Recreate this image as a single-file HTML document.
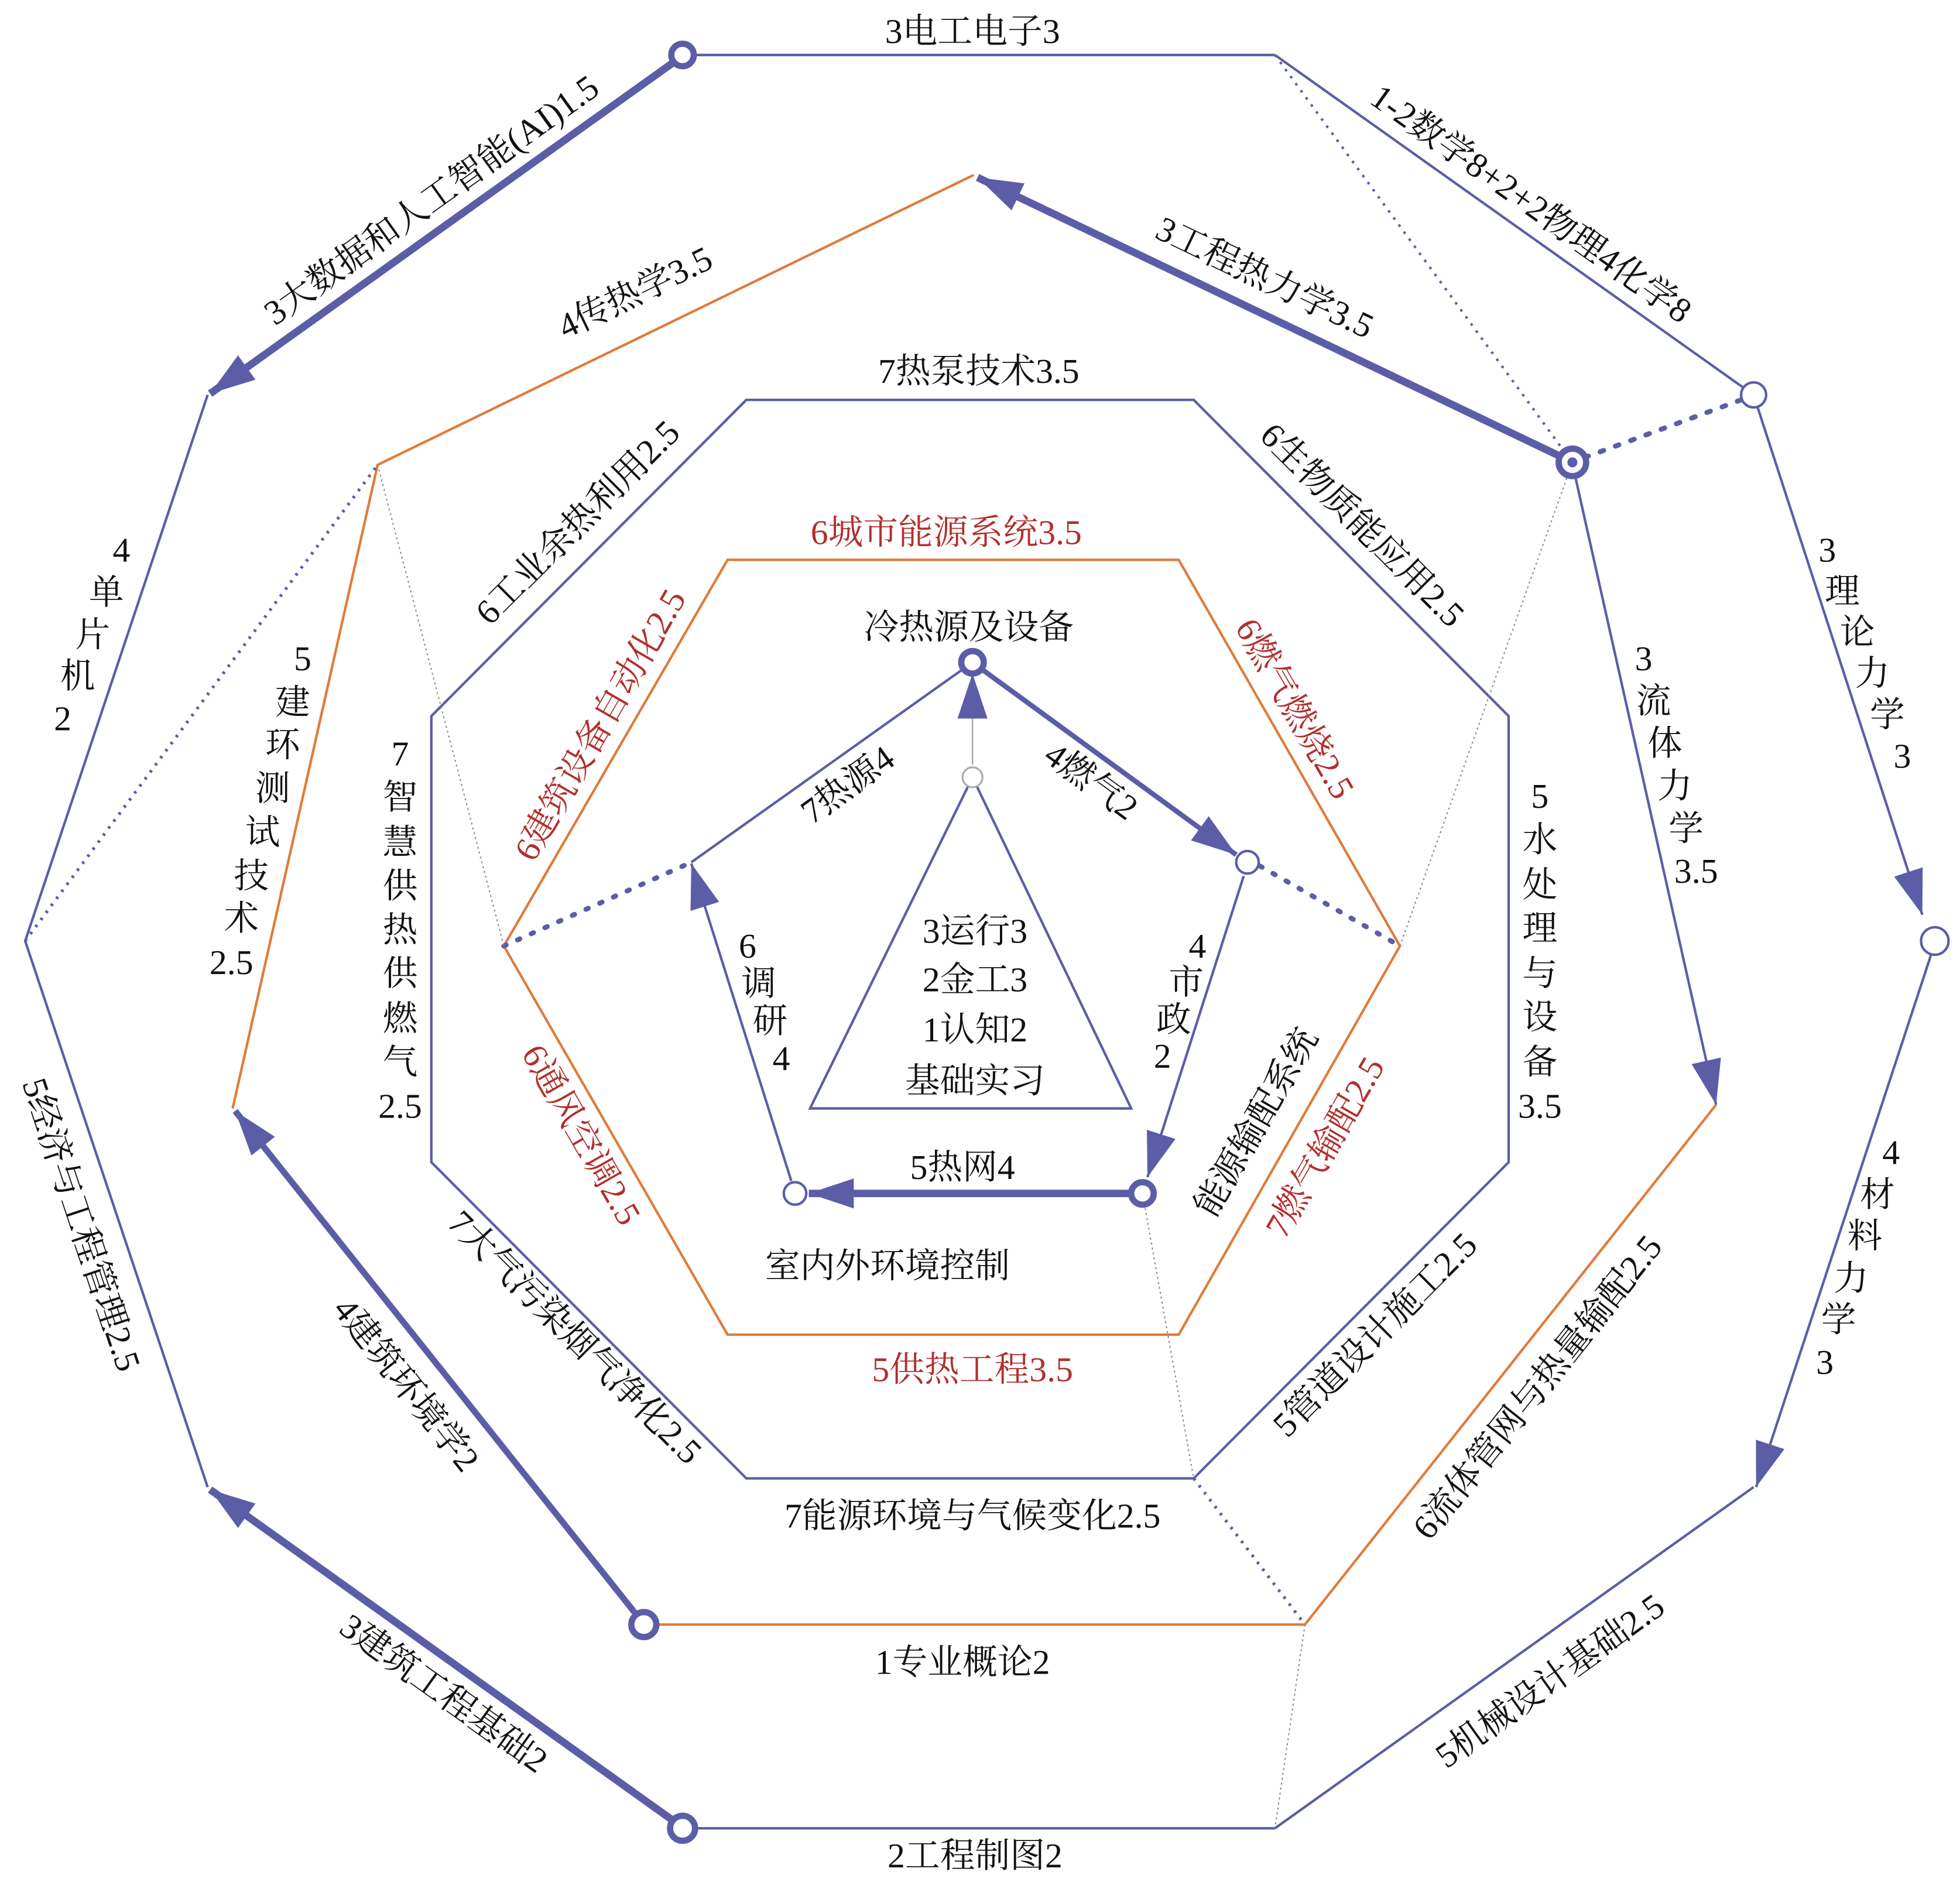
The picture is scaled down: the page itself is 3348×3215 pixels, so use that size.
<!DOCTYPE html>
<html><head><meta charset="utf-8"><style>
html,body{margin:0;padding:0;background:#fff}
svg{display:block}
text{font-family:"Liberation Serif","Noto Serif CJK SC","Noto Sans CJK SC",serif;font-size:28px;fill:#111;text-anchor:middle;dominant-baseline:central}
.r{fill:#b0302e}
</style></head><body>
<svg width="3348" height="3215" viewBox="0 0 1568 1506" xmlns="http://www.w3.org/2000/svg">
<defs>
<marker id="a" viewBox="0 0 10 10" refX="10" refY="5" markerWidth="36" markerHeight="24" markerUnits="userSpaceOnUse" orient="auto" preserveAspectRatio="none"><path d="M0,0 L10,5 L0,10 z" fill="#5b5ea6"/></marker>
</defs>
<g fill="none" stroke="#5b5ea6" stroke-width="2">
<polyline points="546,44 1020,44"/>
<polyline points="1020,44 1403,316"/>
<polyline points="166,316 20,753 166,1190"/>
<polyline points="546,1463 1020,1463 1403,1190"/>
<line x1="1403" y1="316" x2="1538" y2="732" marker-end="url(#a)"/>
<line x1="1545" y1="764" x2="1405" y2="1190" marker-end="url(#a)"/>
<line x1="540" y1="49" x2="168" y2="315" stroke-width="6" marker-end="url(#a)"/>
<line x1="540" y1="1458" x2="168" y2="1192" stroke-width="6" marker-end="url(#a)"/>
<line x1="1250" y1="366" x2="782" y2="142" stroke-width="6" marker-end="url(#a)"/>
<line x1="1260" y1="380" x2="1373" y2="884" marker-end="url(#a)"/>
<line x1="509" y1="1292" x2="188" y2="889" stroke-width="5" marker-end="url(#a)"/>
<polygon points="597,320 955,320 1207,573 1207,930 955,1183 597,1183 345,930 345,573"/>
<line x1="553" y1="690" x2="778" y2="530"/>
<line x1="782" y1="533" x2="989" y2="684" stroke-width="4" marker-end="url(#a)"/>
<line x1="995" y1="701" x2="918" y2="942" marker-end="url(#a)"/>
<line x1="904" y1="955" x2="647" y2="955" stroke-width="6" marker-end="url(#a)"/>
<line x1="633" y1="945" x2="553" y2="691" marker-end="url(#a)"/>
<polygon points="778,622 648,887 905,887"/>
</g>
<line x1="778" y1="612" x2="778" y2="539" stroke="#aaa" stroke-width="1.2" marker-end="url(#a)"/>
<g fill="none" stroke="#e07b39" stroke-width="2">
<polyline points="779,140 302,372 186,887"/>
<polyline points="515,1300 1044,1300 1373,884"/>
<polygon points="582,448 943,448 1120,757 943,1068 582,1068 403,757"/>
</g>
<g fill="none" stroke="#5b5ea6">
<line x1="1020" y1="44" x2="1252" y2="362" stroke-width="2" stroke-dasharray="2,5"/>
<line x1="1268" y1="366" x2="1393" y2="320" stroke-width="4" stroke-dasharray="3,10" stroke-linecap="round"/>
<line x1="20" y1="753" x2="302" y2="372" stroke-width="2.5" stroke-dasharray="2,5"/>
<line x1="403" y1="757" x2="553" y2="690" stroke-width="4" stroke-dasharray="2,10" stroke-linecap="round"/>
<line x1="1008" y1="693" x2="1120" y2="757" stroke-width="4" stroke-dasharray="2,10" stroke-linecap="round"/>
<line x1="955" y1="1183" x2="1044" y2="1300" stroke-width="2.5" stroke-dasharray="2,5"/>
</g>
<g fill="none" stroke="#888" stroke-width="1" stroke-dasharray="1.5,2.5">
<line x1="302" y1="372" x2="403" y2="757"/>
<line x1="1120" y1="757" x2="1258" y2="370"/>
<line x1="914" y1="955" x2="955" y2="1183"/>
<line x1="1044" y1="1300" x2="1020" y2="1463"/>
</g>
<g fill="#fff" stroke="#5b5ea6">
<circle cx="546" cy="44" r="9" stroke-width="5"/>
<circle cx="1403" cy="316" r="10" stroke-width="2"/>
<circle cx="1258" cy="370" r="11" stroke-width="5"/>
<circle cx="1548" cy="753" r="11" stroke-width="2"/>
<circle cx="778" cy="530" r="9" stroke-width="5"/>
<circle cx="998" cy="690" r="9" stroke-width="2"/>
<circle cx="914" cy="955" r="9" stroke-width="5"/>
<circle cx="636" cy="955" r="9" stroke-width="2"/>
<circle cx="515" cy="1300" r="10" stroke-width="5"/>
<circle cx="546" cy="1463" r="10" stroke-width="5"/>
</g>
<circle cx="778" cy="622" r="8" fill="#fff" stroke="#aaa" stroke-width="1.5"/>
<circle cx="1258" cy="370" r="4" fill="#5b5ea6"/>

<text x="778" y="25">3电工电子3</text>
<text x="783" y="297">7热泵技术3.5</text>
<text x="757" y="426" class="r">6城市能源系统3.5</text>
<text x="775" y="502">冷热源及设备</text>
<text x="780" y="745">3运行3</text>
<text x="780" y="784">2金工3</text>
<text x="780" y="824">1认知2</text>
<text x="780" y="865">基础实习</text>
<text x="770" y="934">5热网4</text>
<text x="710" y="1013">室内外环境控制</text>
<text x="778" y="1096" class="r">5供热工程3.5</text>
<text x="778" y="1213">7能源环境与气候变化2.5</text>
<text x="770" y="1330">1专业概论2</text>
<text x="780" y="1485">2工程制图2</text>

<text transform="translate(345,160) rotate(-35.6)">3大数据和人工智能(AI)1.5</text>
<text transform="translate(1225,163) rotate(35.4)">1-2数学8+2+2物理4化学8</text>
<text transform="translate(508,234) rotate(-25.9)">4传热学3.5</text>
<text transform="translate(1012,222) rotate(25.6)">3工程热力学3.5</text>
<text transform="translate(462,418) rotate(-45)">6工业余热利用2.5</text>
<text transform="translate(1090,420) rotate(45)">6生物质能应用2.5</text>
<text class="r" transform="translate(480,580) rotate(-60)">6建筑设备自动化2.5</text>
<text class="r" transform="translate(1036,567) rotate(60)">6燃气燃烧2.5</text>
<text transform="translate(678,628) rotate(-36)">7热源4</text>
<text transform="translate(873,625) rotate(36)">4燃气2</text>
<text class="r" transform="translate(465,908) rotate(60)">6通风空调2.5</text>
<text class="r" transform="translate(1060,918) rotate(-60)">7燃气输配2.5</text>
<text transform="translate(1005,898) rotate(-60)">能源输配系统</text>
<text transform="translate(460,1070) rotate(45)">7大气污染烟气净化2.5</text>
<text transform="translate(1100,1068) rotate(-45)">5管道设计施工2.5</text>
<text transform="translate(325,1108) rotate(51.5)">4建筑环境学2</text>
<text transform="translate(1230,1110) rotate(-51.5)">6流体管网与热量输配2.5</text>
<text transform="translate(355,1355) rotate(35.6)">3建筑工程基础2</text>
<text transform="translate(1240,1345) rotate(-35.6)">5机械设计基础2.5</text>
<text transform="translate(65,980) rotate(71.6)">5经济与工程管理2.5</text>

<text x="97 85 74 62 50" y="440 474 508 541 575">4单片机2</text>
<text><tspan x="1462 1474 1486 1498 1510 1522" y="440 473 506 539 572 605">3理论力学3</tspan></text>
<text><tspan x="1315 1323 1332 1340 1349" y="527 561 595 629 663">3流体力学</tspan><tspan x="1357" y="697">3.5</tspan></text>
<text><tspan x="242 234 226 218 210 201 193" y="527 562 596 631 666 701 735">5建环测试技术</tspan><tspan x="185" y="770">2.5</tspan></text>
<text><tspan x="320 320 320 320 320 320 320 320" y="603 638 674 709 744 779 815 850">7智慧供热供燃气</tspan><tspan x="320" y="885">2.5</tspan></text>
<text><tspan x="1232 1232 1232 1232 1232 1232 1232" y="637 672 708 743 779 814 850">5水处理与设备</tspan><tspan x="1232" y="885">3.5</tspan></text>
<text x="1513 1502 1492 1481 1471 1460" y="922 956 989 1023 1056 1090">4材料力学3</text>
<text x="598 607 616 625" y="757 787 817 847">6调研4</text>
<text x="958 949 939 930" y="757 786 816 845">4市政2</text>
</svg>
</body></html>
